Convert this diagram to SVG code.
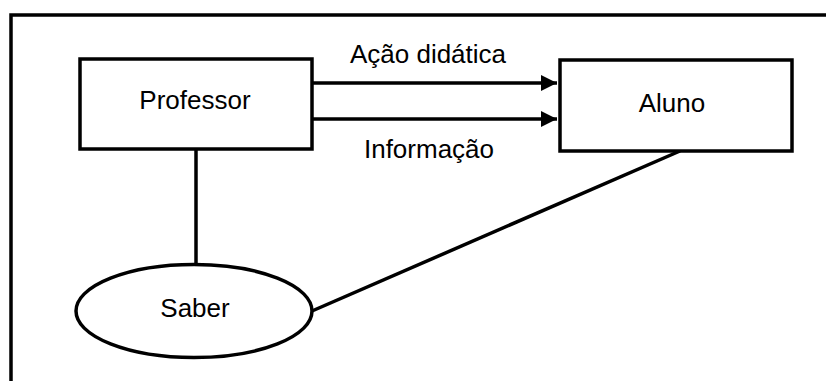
<svg xmlns="http://www.w3.org/2000/svg" width="826" height="381" viewBox="0 0 826 381">
<style>
.s{fill:#fff;stroke:#000;stroke-width:3.5}
.c{fill:none;stroke:#000;stroke-width:3.5}
text{font-family:"Liberation Sans",Arial,sans-serif;font-size:26px;fill:#000}
.m{text-anchor:middle}
</style>
<defs>
<marker id="ah" markerUnits="userSpaceOnUse" markerWidth="18" markerHeight="18" refX="16" refY="8" orient="auto">
<path d="M0,0 L16,8 L0,16 Z" fill="#000"/>
</marker>
</defs>
<rect x="11" y="15" width="830" height="400" fill="#fff" stroke="#000" stroke-width="3.5"/>
<g id="connectors">
<line class="c" x1="312" y1="83" x2="557" y2="83" marker-end="url(#ah)"/>
<line class="c" x1="312" y1="119" x2="557" y2="119" marker-end="url(#ah)"/>
<line class="c" x1="196" y1="149" x2="196" y2="265"/>
<line class="c" x1="312" y1="311" x2="680" y2="151"/>
<text x="428" y="63" class="m">Ação didática</text>
<text x="429" y="158" class="m">Informação</text>
</g>
<g id="professor">
<rect class="s" x="80" y="59" width="232" height="90"/>
<text x="195" y="109" class="m">Professor</text>
</g>
<g id="aluno">
<rect class="s" x="560" y="60" width="232" height="91"/>
<text x="672" y="112" class="m">Aluno</text>
</g>
<g id="saber">
<ellipse class="s" cx="194" cy="311" rx="118" ry="46.5"/>
<text x="195" y="317" class="m">Saber</text>
</g>
</svg>
